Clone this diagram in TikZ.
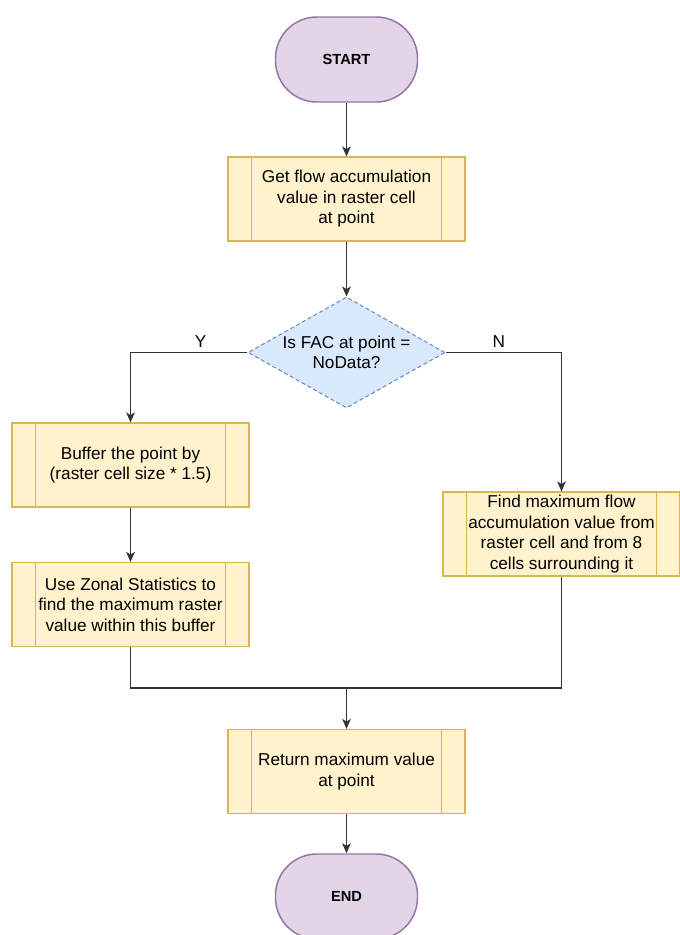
\documentclass[tikz,border=0pt]{standalone}
\usepackage{fontspec}
\setmainfont{Liberation Sans}
\usepackage{tikz}
\usetikzlibrary{arrows.meta}
\usetikzlibrary{shapes.geometric}

\definecolor{termfill}{HTML}{E1D5E7}
\definecolor{termline}{HTML}{9673A6}
\definecolor{procfill}{HTML}{FFF2CC}
\definecolor{procline}{HTML}{D6B656}
\definecolor{decfill}{HTML}{DAE8FC}
\definecolor{decline}{HTML}{6C8EBF}

\newcommand{\chartfont}{\fontsize{12.9}{15.4}\selectfont}

\tikzset{
  terminal/.style={draw=termline, fill=termfill, line width=1.1pt, rounded corners=31pt,
    minimum width=106.5pt, minimum height=63.75pt, inner sep=0pt,
    font=\fontsize{11}{13}\selectfont\bfseries},
  procbox/.style={draw=procline, fill=procfill, line width=0.9pt, minimum width=177.75pt,
    minimum height=63pt, inner sep=0pt, align=center, font=\chartfont},
  decision/.style={diamond, draw=decline, fill=decfill, line width=0.8pt,
    dash pattern=on 3pt off 2pt, aspect=1.77, minimum width=147.75pt,
    minimum height=83.25pt, inner sep=0pt, align=center, font=\chartfont},
  link/.style={draw=black!80, line width=0.9pt},
  conn/.style={link, -{Stealth[length=7.5pt,width=6.5pt,inset=2pt]}},
}

\begin{document}
\begin{tikzpicture}[x=0.75pt, y=-0.75pt]

  \useasboundingbox (0,0) rectangle (680,935);

  \node[terminal] (start) at (346.5,59.5) {START};
  \node[procbox] (getfac) at (346.5,199) {Get flow accumulation\\value in raster cell\\at point};
  \node[decision] (isnodata) at (346.5,352.5) {Is FAC at point =\\NoData?};

  \node[procbox] (buffer) at (130.5,465) {Buffer the point by\\(raster cell size * 1.5)};
  \node[procbox] (zonal) at (130.5,604.5) {Use Zonal Statistics to\\find the maximum raster\\value within this buffer};
  \node[procbox] (neigh) at (561.5,534) {Find maximum flow\\accumulation value from\\raster cell and from 8\\cells surrounding it};

  \coordinate (merge) at (346.5,688);
  \node[procbox] (ret) at (346.5,771.5) {Return maximum value\\at point};
  \node[terminal] (stop) at (346.5,896.5) {END};

  \foreach \b in {getfac,buffer,zonal,neigh,ret}{
    \draw[procline, line width=0.9pt]
      ([xshift=18pt]\b.north west) -- ([xshift=18pt]\b.south west)
      ([xshift=-18pt]\b.north east) -- ([xshift=-18pt]\b.south east);
  }

  \draw[conn] (start) -- (getfac);
  \draw[conn] (getfac) -- (isnodata);
  \draw[conn] (isnodata.west) -| node[pos=0.2, above, font=\chartfont] {Y} (buffer.north);
  \draw[conn] (isnodata.east) -| node[pos=0.23, above, font=\chartfont] {N} (neigh.north);
  \draw[conn] (buffer) -- (zonal);

  \draw[link] (zonal.south) |- (merge);
  \draw[link] (neigh.south) |- (merge);
  \draw[conn] (merge) -- (ret);
  \draw[conn] (ret) -- (stop);

\end{tikzpicture}
\end{document}
